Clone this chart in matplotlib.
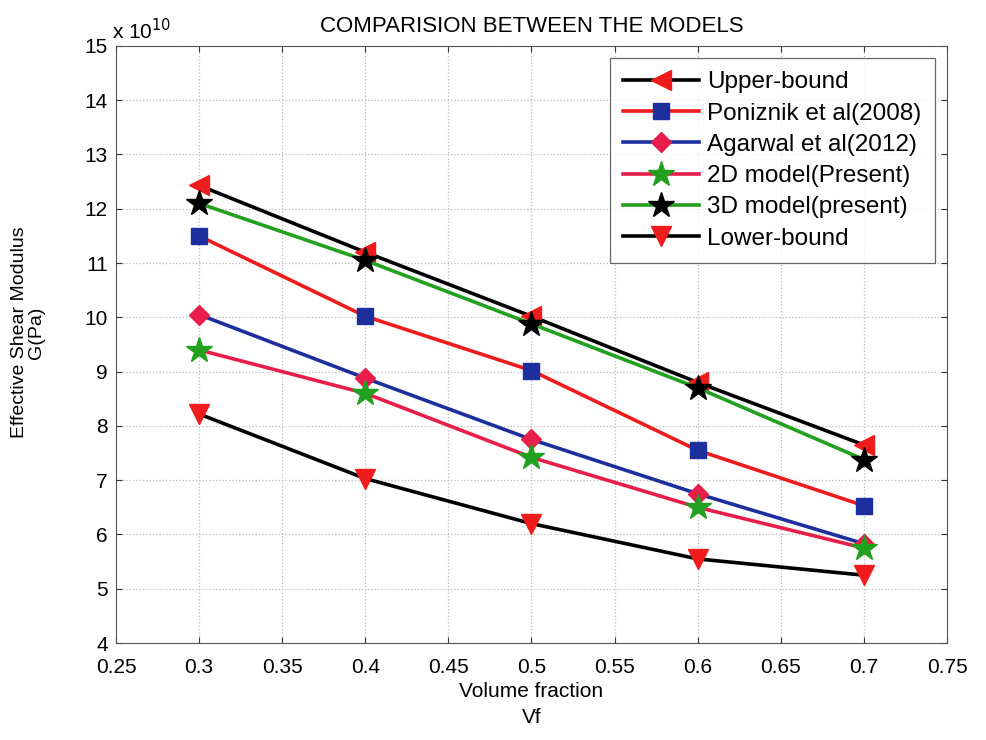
import numpy as np
import matplotlib.pyplot as plt

plt.rcParams['font.family'] = ['Liberation Sans', 'DejaVu Sans']

# Volume fraction
vf = [0.3, 0.4, 0.5, 0.6, 0.7]

# Effective shear modulus, units of 1e10 Pa
upper_bound = [12.43, 11.2, 10.02, 8.8, 7.65]
poniznik = [11.5, 10.02, 9.02, 7.55, 6.53]
agarwal = [10.05, 8.88, 7.75, 6.75, 5.83]
model_2d = [9.4, 8.6, 7.42, 6.5, 5.75]
model_3d = [12.1, 11.05, 9.88, 8.7, 7.38]
lower_bound = [8.22, 7.03, 6.2, 5.55, 5.25]

labels = ['Upper-bound', 'Poniznik et al(2008)', 'Agarwal et al(2012)',
          '2D model(Present)', '3D model(present)', 'Lower-bound']

RED = '#ee1c1c'
BLUE = '#1c2f9c'
PINK = '#e81e4a'
GREEN = '#22a020'

fig = plt.figure(figsize=(9.87, 7.40), dpi=100)
ax = fig.add_axes([0.1175, 0.131, 0.842, 0.807])

lw = 2.6
ms = 14
ax.plot(vf, upper_bound, color='black', lw=lw, marker='<', ms=ms + 1,
        mfc=RED, mec=RED, label=labels[0])
ax.plot(vf, poniznik, color=RED, lw=lw, marker='s', ms=ms - 2,
        mfc=BLUE, mec=BLUE, label=labels[1])
ax.plot(vf, agarwal, color=BLUE, lw=lw, marker='D', ms=ms - 4,
        mfc=PINK, mec=PINK, label=labels[2])
ax.plot(vf, model_2d, color=PINK, lw=lw, marker='*', ms=ms + 5,
        mfc=GREEN, mec=GREEN, label=labels[3])
ax.plot(vf, model_3d, color=GREEN, lw=lw, marker='*', ms=ms + 5,
        mfc='black', mec='black', label=labels[4])
ax.plot(vf, lower_bound, color='black', lw=lw, marker='v', ms=ms + 1,
        mfc=RED, mec=RED, label=labels[5])

ax.set_xlim(0.25, 0.75)
ax.set_ylim(4, 15)
ax.set_xticks(np.arange(0.25, 0.76, 0.05))
ax.set_xticklabels(['0.25', '0.3', '0.35', '0.4', '0.45', '0.5', '0.55',
                    '0.6', '0.65', '0.7', '0.75'])
ax.set_yticks(range(4, 16))
ax.tick_params(direction='in', labelsize=15, length=4, top=True, right=True,
               width=0.8, color='#333333')
ax.tick_params(axis='x', pad=11)
ax.tick_params(axis='y', pad=6)
ax.grid(True, linestyle=':', color='#bbbbbb', linewidth=0.9)
for s in ax.spines.values():
    s.set_color('#555555')
    s.set_linewidth(0.8)

ax.text(-0.005, 1.004, r'x 10$^{10}$', transform=ax.transAxes, fontsize=15,
        ha='left', va='bottom')
ax.set_title('COMPARISION BETWEEN THE MODELS', fontsize=16, pad=10)
ax.set_xlabel('Volume fraction\nVf', fontsize=15, linespacing=1.5, labelpad=3)
ax.set_ylabel('Effective Shear Modulus\nG(Pa)', fontsize=14, linespacing=0.95)
ax.yaxis.set_label_coords(-0.086, 0.52)

leg = ax.legend(loc='upper right', fontsize=17.5, handlelength=3.1,
                handletextpad=0.35, frameon=True, fancybox=False,
                edgecolor='#444444', borderaxespad=0.5, labelspacing=0.38,
                borderpad=0.55)
leg.get_frame().set_linewidth(0.9)

plt.savefig('out.png', dpi=100, facecolor='white')
plt.close()
